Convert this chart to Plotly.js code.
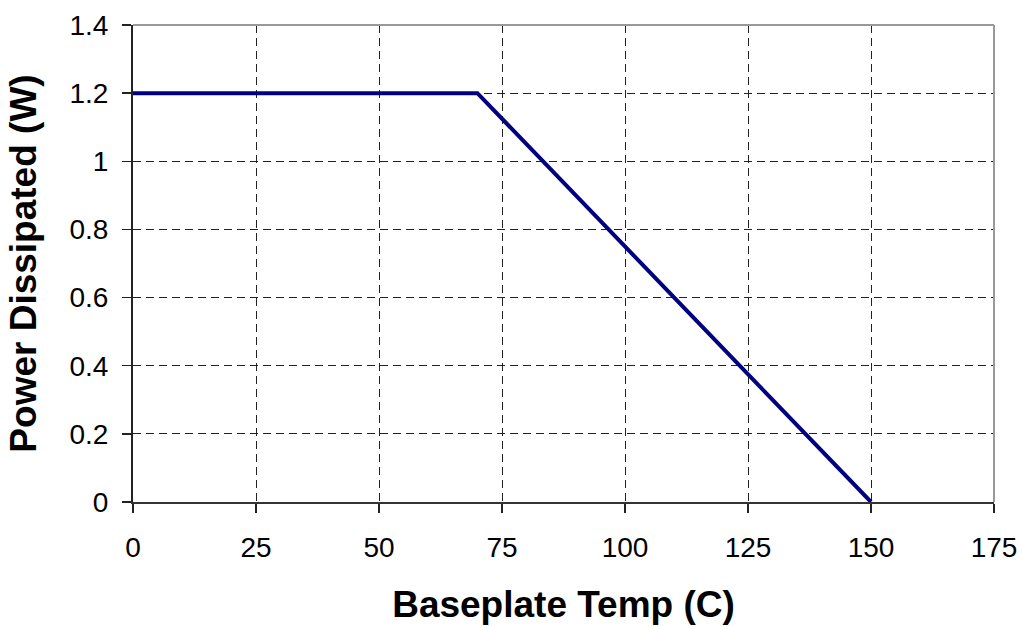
<!DOCTYPE html>
<html>
<head>
<meta charset="utf-8">
<script src="https://cdn.plot.ly/plotly-3.0.1.min.js"></script>
<style>html,body{margin:0;padding:0;background:#fff;}#chart{width:1022px;height:627px;}</style>
</head>
<body>
<div id="chart"></div>
<script>
const tempC = [0, 70, 150];
const powerW = [1.2, 1.2, 0];
const xTicks = [0, 25, 50, 75, 100, 125, 150, 175];
const yTicks = [0, 0.2, 0.4, 0.6, 0.8, 1, 1.2, 1.4];

const trace = {
  x: tempC, y: powerW, type: 'scatter', mode: 'lines',
  line: {color: '#000080', width: 4}, hoverinfo: 'skip'
};
const fam = 'Liberation Sans, Arial, sans-serif';
const layout = {
  width: 1022, height: 627,
  margin: {l: 133, r: 28, t: 25, b: 125},
  paper_bgcolor: '#fff', plot_bgcolor: '#fff',
  showlegend: false,
  font: {family: fam, color: '#000'},
  xaxis: {
    range: [0, 175], tickvals: xTicks, ticktext: xTicks.map(String),
    ticks: 'outside', ticklen: 9, tickcolor: '#222', tickwidth: 1.5,
    tickfont: {size: 28, family: fam, color: '#000'},
    ticklabelstandoff: 10,
    showline: true, linecolor: '#333', linewidth: 2,
    showgrid: true, gridcolor: '#222', griddash: '8px,5px', gridwidth: 1,
    zeroline: false,
    title: {text: 'Baseplate Temp (C)', font: {size: 37, family: fam, color: '#000', weight: 'bold'}, standoff: 30}
  },
  yaxis: {
    range: [0, 1.4], tickvals: yTicks, ticktext: yTicks.map(String),
    ticks: 'outside', ticklen: 9, tickcolor: '#222', tickwidth: 1.5,
    tickfont: {size: 28, family: fam, color: '#000'},
    ticklabelstandoff: 8,
    showline: true, linecolor: '#222', linewidth: 2,
    showgrid: true, gridcolor: '#222', griddash: '8px,5px', gridwidth: 1,
    zeroline: false,
    title: {text: 'Power Dissipated (W)', font: {size: 37, family: fam, color: '#000', weight: 'bold'}, standoff: 22}
  },
  shapes: [
    {type: 'line', xref: 'paper', yref: 'paper', x0: 0, x1: 1, y0: 1, y1: 1, line: {color: '#999', width: 2}},
    {type: 'line', xref: 'paper', yref: 'paper', x0: 1, x1: 1, y0: 0, y1: 1, line: {color: '#999', width: 2}}
  ]
};
Plotly.newPlot('chart', [trace], layout, {staticPlot: true, displayModeBar: false});
</script>
</body>
</html>
